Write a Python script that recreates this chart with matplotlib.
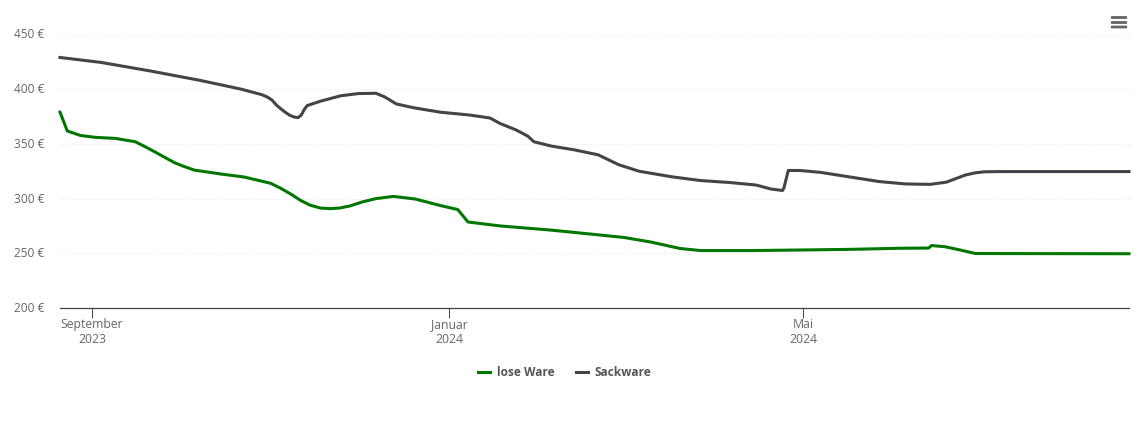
import matplotlib
matplotlib.use("Agg")
import matplotlib.pyplot as plt
import pandas as pd
from matplotlib.lines import Line2D
from matplotlib.patches import FancyBboxPatch
from matplotlib.transforms import ScaledTranslation

plt.rcParams['font.family'] = ['Open Sans', 'DejaVu Sans']

BASE = pd.Timestamp("2023-09-01")

sack_days = [-11, 3, 20, 37, 51, 58, 60, 61.5, 63, 65, 66.5, 67.7, 69, 70.4, 71.5, 72.5, 73.5, 78, 85,
             91, 97, 100, 104, 110, 119, 129, 136, 139.5, 145, 149, 151, 157, 165, 173, 180, 187, 198,
             208, 218, 227, 232, 236, 236.5, 238, 242, 249, 259, 269, 278, 286.5, 292, 295, 298.5,
             301.8, 305, 310.5, 354.5]
sack_vals = [429, 424.5, 416.6, 408, 400, 395, 392.7, 390, 385.5, 381, 378, 376, 374.6, 374, 376.4,
             381.4, 385, 389, 394, 396, 396.3, 393, 386.5, 383, 379, 376.4, 373.7, 368.6, 362.7, 357,
             352, 348, 344.5, 340, 331, 325, 320, 316.5, 314.7, 312.4, 308.8, 307.4, 309.5, 325.7,
             325.7, 324, 319.8, 315.6, 313.4, 313, 315, 318, 321.5, 323.5, 324.5, 324.7, 324.7]

lose_days = [-11, -8.5, -4, 1, 8, 14.7, 18, 21.5, 25, 28.4, 31.8, 35, 44, 52, 61, 64.3, 68, 71.3, 74.5,
             78, 81.4, 84.6, 88, 92.3, 97, 103, 110.5, 119, 125, 128.5, 139.5, 156.5, 173.7, 182, 191,
             201, 208, 225, 242, 259, 276, 286, 287, 291.6, 296.8, 302, 354.5]
lose_vals = [379, 361.8, 357.7, 356, 355, 352, 347.6, 342.6, 337.4, 332.5, 329, 326, 322.5, 319.7, 314,
             309.7, 304, 298.3, 294, 291.4, 290.8, 291.4, 293.2, 296.9, 300, 302, 299.6, 293.7, 290,
             278.6, 275, 271.3, 266.7, 264.4, 260.3, 254.4, 252.5, 252.5, 253, 253.6, 254.6, 254.8,
             257.1, 256, 253, 249.8, 249.6]

y_ticks = [200, 250, 300, 350, 400, 450]
x_tick_dates = ["2023-09-01", "2024-01-01", "2024-05-01"]
x_tick_labels = ["September\n2023", "Januar\n2024", "Mai\n2024"]
series_names = ["lose Ware", "Sackware"]
GREEN, GREY = "#007700", "#434348"

def to_dates(days):
    return BASE + pd.to_timedelta(days, unit="D")

W, H = 1140, 434
fig = plt.figure(figsize=(W / 100, H / 100), dpi=100, facecolor="white")
ax = fig.add_axes([60 / W, 1 - 308 / H, (1129 - 60) / W, (308 - 34.5) / H])

ax.plot(to_dates(lose_days), lose_vals, color=GREEN, lw=2.2, solid_joinstyle="round", clip_on=False)
ax.plot(to_dates(sack_days), sack_vals, color=GREY, lw=2.2, solid_joinstyle="round", clip_on=False)

ax.set_ylim(200, 450)
ax.set_xlim(to_dates(-11), to_dates(354.5))
ax.set_yticks(y_ticks)
ax.set_yticklabels([f"{v} €" for v in y_ticks])
ax.set_xticks(pd.to_datetime(x_tick_dates))
ax.set_xticklabels(x_tick_labels, linespacing=1.2)
ax.grid(axis="y", color="#e6e6e6", lw=0.7, ls=(0, (1, 2)))
ax.set_axisbelow(True)
for s in ("top", "right", "left"):
    ax.spines[s].set_visible(False)
ax.spines["bottom"].set_color("#444444")
ax.spines["bottom"].set_linewidth(0.9)
ax.tick_params(axis="y", length=0, pad=11, labelsize=8.6, labelcolor="#666666")
ax.tick_params(axis="x", length=7, width=0.7, color="#444444", pad=0.3, labelsize=8.8, labelcolor="#666666")
for lab in ax.get_yticklabels():
    lab.set_transform(lab.get_transform() + ScaledTranslation(0, 1 / 100, fig.dpi_scale_trans))

handles = [Line2D([], [], color=GREEN, lw=2.2), Line2D([], [], color=GREY, lw=2.2)]
fig.legend(handles, series_names, loc="center", bbox_to_anchor=(565 / W, 1 - 372.5 / H), ncol=2,
           frameon=False, handlelength=1.0, handletextpad=0.53, columnspacing=1.85,
           prop={"size": 8.6, "weight": "bold"}, labelcolor="#555555")

for y in (17.5, 22.5, 27):
    fig.add_artist(FancyBboxPatch((1111.5 / W, 1 - (y + 0.7) / H), 15 / W, 1.4 / H,
                                  boxstyle="round,pad=0", transform=fig.transFigure,
                                  fc="#666666", ec="#666666", lw=1))

fig.savefig("out.png", dpi=100)
